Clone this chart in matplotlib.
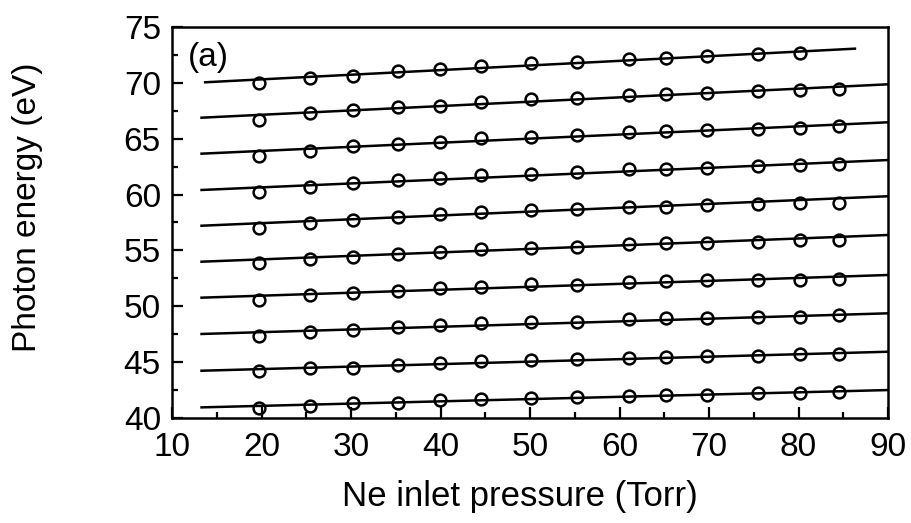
import matplotlib
matplotlib.use("Agg")
import matplotlib.pyplot as plt
from matplotlib.ticker import MultipleLocator

plt.rcParams['font.family'] = ['Liberation Sans', 'DejaVu Sans']

pressure = [19.7, 25.4, 30.2, 35.2, 39.9, 44.5, 50.1, 55.3, 61.1, 65.2, 69.8, 75.5, 80.2, 84.5]

s1 = [40.86, 41.07, 41.30, 41.33, 41.60, 41.70, 41.76, 41.85, 42.00, 42.05, 42.05, 42.20, 42.20, 42.30]
s2 = [44.20, 44.44, 44.50, 44.71, 44.89, 45.10, 45.19, 45.25, 45.34, 45.48, 45.55, 45.55, 45.69, 45.69]
s3 = [47.34, 47.72, 47.87, 48.11, 48.29, 48.47, 48.62, 48.62, 48.83, 48.92, 48.92, 49.01, 49.07, 49.19]
s4 = [50.56, 51.01, 51.16, 51.39, 51.60, 51.75, 51.96, 51.90, 52.20, 52.26, 52.35, 52.35, 52.35, 52.47]
s5 = [53.84, 54.20, 54.44, 54.68, 54.88, 55.15, 55.24, 55.33, 55.57, 55.63, 55.69, 55.78, 55.93, 55.93]
s6 = [57.03, 57.48, 57.72, 58.02, 58.23, 58.41, 58.62, 58.68, 58.86, 58.91, 59.06, 59.15, 59.22, 59.27]
s7 = [60.20, 60.70, 61.03, 61.28, 61.45, 61.72, 61.87, 62.02, 62.26, 62.29, 62.40, 62.56, 62.67, 62.74]
s8 = [63.45, 63.93, 64.38, 64.53, 64.73, 65.06, 65.18, 65.36, 65.57, 65.69, 65.78, 65.90, 65.99, 66.11]
s9 = [66.67, 67.27, 67.57, 67.81, 67.96, 68.31, 68.53, 68.67, 68.88, 68.97, 69.09, 69.27, 69.36, 69.42]
s10 = [70.02, 70.40, 70.64, 71.06, 71.27, 71.50, 71.75, 71.87, 72.10, 72.25, 72.38, 72.56, 72.65]

series = [s1, s2, s3, s4, s5, s6, s7, s8, s9, s10]

# fitted line endpoints
line_x0 = [13.3, 13.3, 13.3, 13.3, 13.3, 13.3, 13.3, 13.3, 13.3, 13.7]
line_x1 = [90.0, 90.0, 90.0, 90.0, 90.0, 90.0, 90.0, 90.0, 90.0, 86.3]
line_y0 = [40.95, 44.23, 47.52, 50.77, 53.99, 57.21, 60.41, 63.66, 66.88, 70.05]
line_y1 = [42.50, 45.93, 49.37, 52.80, 56.38, 59.85, 63.09, 66.47, 69.87, 73.06]

fig = plt.figure(figsize=(9.11, 5.23), dpi=100)
ax = fig.add_axes([0.1888, 0.2008, 0.786, 0.7476])

for s, x0, x1, y0, y1 in zip(series, line_x0, line_x1, line_y0, line_y1):
    ax.plot([x0, x1], [y0, y1], color='black', lw=1.8, zorder=2)
    ax.plot(pressure[:len(s)], s, linestyle='none', marker='o', ms=8.5,
            mfc='none', mec='black', mew=1.8, zorder=3)

ax.set_xlim(10, 90)
ax.set_ylim(40, 75)
ax.xaxis.set_major_locator(MultipleLocator(10))
ax.xaxis.set_minor_locator(MultipleLocator(5))
ax.yaxis.set_major_locator(MultipleLocator(5))
ax.yaxis.set_minor_locator(MultipleLocator(2.5))
ax.tick_params(which='both', direction='in', top=False, right=False, width=1.6)
ax.tick_params(which='major', length=8, labelsize=24)
ax.tick_params(axis='x', which='major', pad=10)
ax.tick_params(axis='y', which='major', pad=8)
ax.tick_params(which='minor', length=4.5)
for sp in ax.spines.values():
    sp.set_linewidth(1.8)

ax.set_xlabel('Ne inlet pressure (Torr)', fontsize=25)
ax.set_ylabel('Photon energy (eV)', fontsize=24)
ax.xaxis.set_label_coords(0.486, -0.159)
ax.yaxis.set_label_coords(-0.180, 0.538)
ax.text(0.022, 0.962, '(a)', transform=ax.transAxes, fontsize=24, va='top', ha='left')

fig.savefig('out.png', dpi=100)
